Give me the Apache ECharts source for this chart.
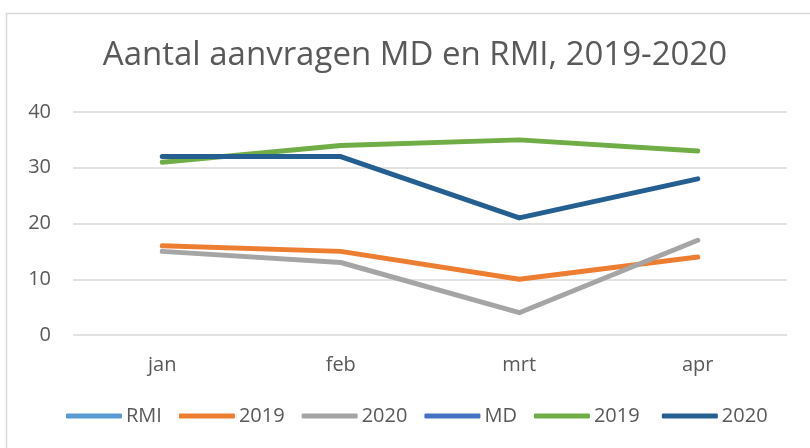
<!DOCTYPE html>
<html>
<head>
<meta charset="utf-8">
<script src="https://cdn.jsdelivr.net/npm/echarts@6/dist/echarts.min.js"></script>
<style>
html,body{margin:0;padding:0;background:#fff;}
#chart{width:810px;height:448px;}
</style>
</head>
<body>
<div id="chart"></div>
<script>
// Monthly request counts, MD and RMI
const months = ['jan', 'feb', 'mrt', 'apr'];
const rmi2019 = [16, 15, 10, 14];
const rmi2020 = [15, 13, 4, 17];
const md2019 = [31, 34, 35, 33];
const md2020 = [32, 32, 21, 28];
const yTicks = [0, 10, 20, 30, 40];

const textColor = '#595959';
const fontFamily = '"Open Sans", Lato, sans-serif';

function lineSeries(name, data, color) {
  return {
    name: name,
    type: 'line',
    data: data,
    symbol: 'none',
    lineStyle: { width: 5, color: color, cap: 'round', join: 'round' },
    itemStyle: { color: color }
  };
}

const chart = echarts.init(document.getElementById('chart'), null, { renderer: 'canvas' });
chart.setOption({
  animation: false,
  backgroundColor: '#fff',
  graphic: [{
    type: 'rect',
    shape: { x: 6.5, y: 13.5, width: 900, height: 500 },
    style: { fill: 'none', stroke: '#d9d9d9', lineWidth: 1.5 },
    silent: true
  }],
  title: {
    text: 'Aantal aanvragen MD en RMI, 2019-2020',
    left: 410,
    textAlign: 'center',
    top: 34,
    textStyle: { color: textColor, fontSize: 33, fontWeight: 'normal', fontFamily: fontFamily }
  },
  legend: {
    bottom: 22,
    left: 66,
    padding: 0,
    icon: 'roundRect',
    itemWidth: 56,
    itemHeight: 5,
    itemGap: 17,
    textStyle: { color: textColor, fontSize: 20, fontFamily: fontFamily, padding: [0, 0, 0, -1] },
    data: ['RMI', '2019', '2020', 'MD', '2019 ', '2020 ']
  },
  grid: { left: 73, right: 23, top: 112, bottom: 113 },
  xAxis: {
    type: 'category',
    data: months,
    boundaryGap: true,
    axisLine: { show: false },
    axisTick: { show: false },
    axisLabel: { color: textColor, fontSize: 20, fontFamily: fontFamily, margin: 20 }
  },
  yAxis: {
    type: 'value',
    min: yTicks[0],
    max: yTicks[yTicks.length - 1],
    interval: 10,
    axisLine: { show: false },
    axisTick: { show: false },
    splitLine: { lineStyle: { color: '#d9d9d9', width: 1.5 } },
    axisLabel: { color: textColor, fontSize: 20, fontFamily: fontFamily, margin: 22 }
  },
  series: [
    lineSeries('RMI', [], '#5B9BD5'),
    lineSeries('2019', rmi2019, '#ED7D31'),
    lineSeries('2020', rmi2020, '#A5A5A5'),
    lineSeries('MD', [], '#4472C4'),
    lineSeries('2019 ', md2019, '#70AD47'),
    lineSeries('2020 ', md2020, '#255E91')
  ]
});
</script>
</body>
</html>
